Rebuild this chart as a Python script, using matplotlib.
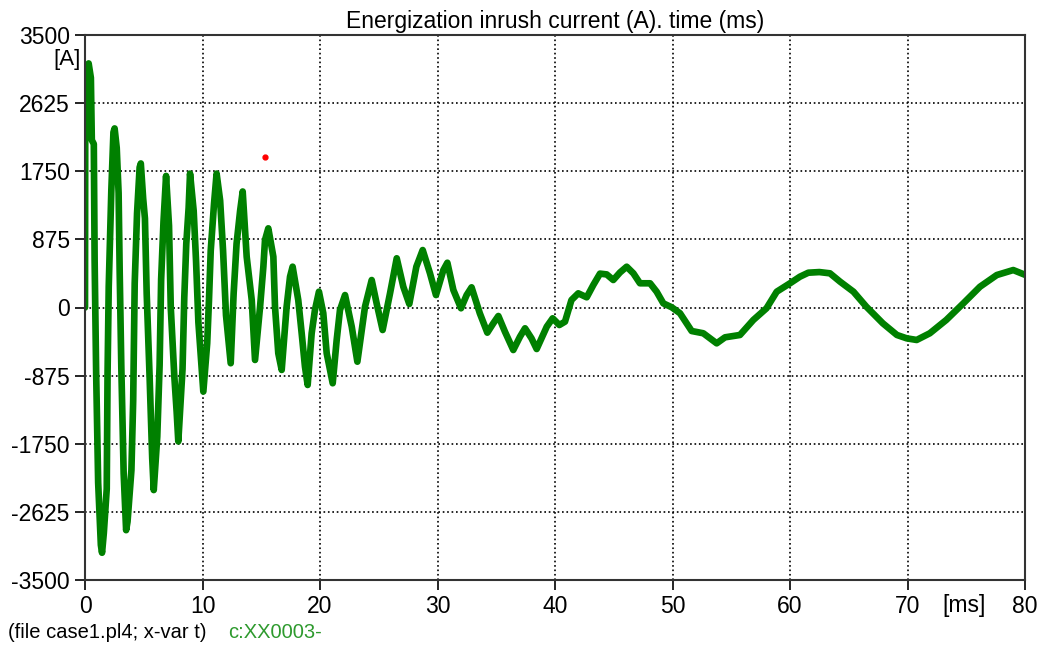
import numpy as np
import matplotlib
matplotlib.use("Agg")
import matplotlib.pyplot as plt

# tiempo (ms) y corriente (A)
tiempo_ms = [
    0.0, 0.02, 0.12, 0.18, 0.31, 0.5, 0.58, 0.75, 0.82, 0.95, 1.12, 1.35, 1.45, 1.6,
    1.85, 1.92, 2.02, 2.24, 2.42, 2.52, 2.7, 2.86, 2.95, 3.09, 3.29, 3.5, 3.62,
    3.95, 4.1, 4.23, 4.43, 4.65, 4.75, 4.95, 5.1, 5.25, 5.5, 5.72, 5.85,
    6.15, 6.35, 6.48, 6.68, 6.9, 7.15, 7.3, 7.6, 7.8, 7.94,
    8.3, 8.45, 8.62, 8.82, 8.94, 9.25, 9.45, 9.65, 10.07,
    10.4, 10.55, 10.7, 10.98, 11.2, 11.5, 11.75, 12.0, 12.4,
    12.65, 12.9, 13.2, 13.42, 13.76, 14.19, 14.47,
    14.9, 15.18, 15.32, 15.6, 16.03, 16.17, 16.45, 16.74,
    17.16, 17.45, 17.67, 18.15, 18.44, 18.72, 18.95,
    19.29, 19.57, 19.91, 20.28, 20.57, 21.08,
    21.42, 21.7, 22.13, 22.7, 23.18, 23.83, 24.4, 24.82, 25.33,
    25.96, 26.53, 27.09, 27.6, 28.2, 28.74, 29.36, 29.87,
    30.5, 30.84, 31.35, 32.0, 32.48, 32.9, 33.6, 34.24,
    34.75, 35.18, 35.74, 36.45, 37.02, 37.45, 38.0, 38.44,
    39.3, 39.8, 40.37, 40.85, 41.4, 41.98, 42.7, 43.26, 43.83, 44.4, 44.96,
    45.53, 46.1, 46.67, 47.23, 48.09, 48.65, 49.22, 49.93, 50.64, 51.2, 51.63,
    52.62, 53.76, 54.47, 55.74, 56.88, 58.0, 58.87, 60.0, 60.85, 61.56, 62.5,
    63.4, 64.26, 65.4, 66.5, 67.9, 69.1, 69.93, 70.78, 71.9, 73.3, 74.75,
    76.17, 77.6, 79.0, 80.0,
]
corriente_a = [
    0, 2250, 2300, 3000, 3135, 2950, 2150, 2100, 600, -850, -2250, -3050, -3150, -2900,
    -2330, -850, 270, 1500, 2250, 2300, 2050, 1470, 480, -760, -2130, -2860, -2750,
    -2090, -1200, 310, 1210, 1800, 1850, 1400, 1145, 180, -900, -1935, -2345,
    -1660, -740, 360, 1100, 1690, 1050, 0, -880, -1340, -1720,
    -790, 130, 820, 1280, 1720, 1240, 600, -190, -1080,
    -460, 90, 730, 1330, 1720, 1375, 730, -100, -716,
    180, 820, 1240, 1490, 652, 96, -674,
    10, 524, 867, 1017, 652, 10, -588, -802,
    10, 396, 524, 96, -331, -760, -995,
    -331, -32, 203, -74, -588, -973,
    -417, -32, 160, -246, -696, 10, 353, 53, -289,
    182, 632, 267, 45, 524, 738, 439, 160,
    481, 575, 225, -10, 160, 259, -74, -323,
    -203, -109, -311, -546, -375, -267, -396, -533,
    -246, -139, -225, -182, 96, 182, 131, 289, 435, 425, 353,
    450, 524, 439, 311, 311, 203, 53, 3, -74, -203, -302,
    -331, -460, -383, -353, -160, -10, 203, 311, 396, 447, 455,
    439, 332, 203, 10, -203, -353, -396, -417, -331, -160, 53,
    267, 417, 481, 420,
]

# punto rojo suelto
punto_t = [15.3]
punto_i = [1930]

x_ticks = [0, 10, 20, 30, 40, 50, 60, 70, 80]
y_ticks = [-3500, -2625, -1750, -875, 0, 875, 1750, 2625, 3500]

plt.rcParams['font.family'] = ['Liberation Sans', 'DejaVu Sans']
plt.rcParams['axes.unicode_minus'] = False

fig = plt.figure(figsize=(10.41, 6.48), dpi=100)
ax = fig.add_axes([85 / 1041, 68 / 648, 940 / 1041, 545 / 648])

ax.plot(tiempo_ms, corriente_a, color='#008000', linewidth=4.8,
        solid_joinstyle='round', solid_capstyle='round')
ax.plot(punto_t, punto_i, 'o', color='red', markersize=3.5)

ax.set_xlim(0, 80)
ax.set_ylim(-3500, 3500)
ax.set_xticks(x_ticks)
ax.set_yticks(y_ticks)
ax.tick_params(direction='out', length=7, width=1.2, labelsize=16.5, pad=4)
ax.grid(True, color='black', linestyle=':', linewidth=1.2)

for lado in ax.spines.values():
    lado.set_color('#333333')
    lado.set_linewidth(1.5)

ax.set_title("Energization inrush current (A). time (ms)", fontsize=16.5, pad=5)
ax.text(-0.004, 0.955, "[A]", transform=ax.transAxes, ha='right', va='center', fontsize=16)
ax.text(0.958, -0.025, "[ms]", transform=ax.transAxes, ha='right', va='top', fontsize=16.5)

fig.text(8 / 1041, 1 - 633 / 648, "(file case1.pl4; x-var t)", ha='left', va='center', fontsize=14.5)
fig.text(228 / 1041, 1 - 633 / 648, "c:XX0003-", ha='left', va='center', fontsize=14.5, color='#2e9a2e')

fig.savefig("out.png", dpi=100)
